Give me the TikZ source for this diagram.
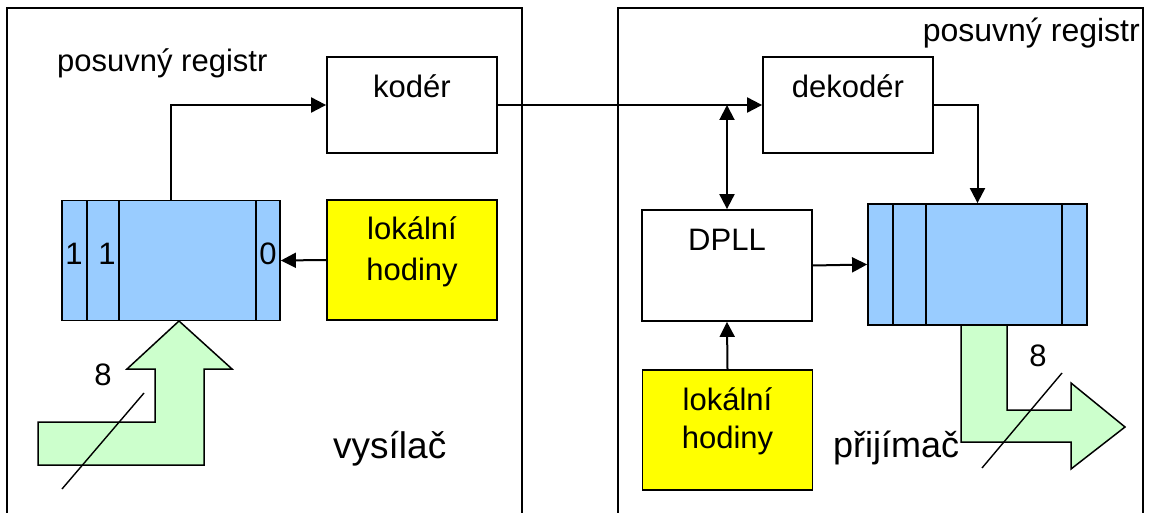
\documentclass[tikz,border=0pt]{standalone}
\usepackage{fontspec}
\setmainfont{Liberation Sans}
\usetikzlibrary{arrows.meta}
\definecolor{regblue}{HTML}{99CCFF}
\definecolor{clockyellow}{HTML}{FFFF00}
\definecolor{busgreen}{HTML}{CCFFCC}
\tikzset{
  frame/.style={draw, line width=1.8pt},
  box/.style={draw, line width=1.8pt, fill=white, minimum width=170pt, minimum height=96pt, inner sep=0pt},
  clock/.style={box, fill=clockyellow, minimum height=120pt},
  reg/.style={draw, line width=1.8pt, fill=regblue, inner sep=0pt},
  divider/.style={line width=1.8pt},
  bus/.style={draw, line width=1.5pt, fill=busgreen, line join=miter},
  slash/.style={line width=1.4pt},
  txt/.style={inner sep=0pt, anchor=base},
  caption/.style={txt, anchor=base west, font=\fontsize{36}{42}\selectfont},
  arr/.style={line width=2pt, -{Triangle[length=15pt,width=15pt]}},
  dblarr/.style={line width=2pt, {Triangle[length=15pt,width=15pt]}-{Triangle[length=15pt,width=15pt]}},
}
\begin{document}
\begin{tikzpicture}[x=1pt, y=-1pt, font=\fontsize{31}{36}\selectfont]
\useasboundingbox (0,0) rectangle (1152,513);
\clip (0,0) rectangle (1152,513);

% transmitter and receiver frames (open at the bottom)
\draw[frame] (7,530) -- (7,8) -- (522,8) -- (522,530);
\draw[frame] (618,530) -- (618,8) -- (1143,8) -- (1143,530);

% parallel 8-bit buses
\path[bus] (38,422) -- (155,422) -- (155,369) -- (127,369) -- (179,321)
  -- (232,369) -- (204,369) -- (204,465) -- (38,465) -- cycle;
\path[bus] (961,325) -- (1007,325) -- (1007,410) -- (1071,410) -- (1071,383)
  -- (1125,427) -- (1071,469) -- (1071,442) -- (961,442) -- cycle;

% blocks
\node[box] (koder) at (412,105) {};
\node[txt] at (412,98) {kodér};
\node[box] (dekoder) at (848,105) {};
\node[txt] at (848,98) {dekodér};
\node[box, minimum height=111pt] (dpll) at (727,265.5) {};
\node[txt] at (727,251) {DPLL};
\node[clock] (lclock) at (412,260) {};
\node[txt] at (412,240) {lokální};
\node[txt] at (412,280) {hodiny};
\node[clock] (rclock) at (727.5,430) {};
\node[txt] at (727.5,410) {lokální};
\node[txt] at (727.5,448) {hodiny};

% shift registers
\node[reg, minimum width=218pt, minimum height=120pt] (lreg) at (171,260.5) {};
\draw[divider] (87,200.5) -- (87,320.5);
\draw[divider] (119,200.5) -- (119,320.5);
\draw[divider] (256,200.5) -- (256,320.5);
\node[txt] at (74,265) {1};
\node[txt] at (107,265) {1};
\node[txt] at (268,265) {0};

\node[reg, minimum width=219pt, minimum height=121pt] (rreg) at (977.5,264.5) {};
\draw[divider] (893,204) -- (893,325);
\draw[divider] (926,204) -- (926,325);
\draw[divider] (1062,204) -- (1062,325);

% bus width marks
\draw[slash] (62,489) -- (144,393);
\node[txt] at (103,385) {8};
\draw[slash] (982,468) -- (1062,373);
\node[txt] at (1038,366) {8};

% connections
\draw[arr] (lreg.north) |- (koder.west);
\draw[arr] (lclock.west) -- (lreg.east);
\draw[arr] (koder.east) -- (dekoder.west);
\coordinate (tap) at (dpll.north |- koder.east);
\draw[dblarr] (tap) -- (dpll.north);
\draw[arr] (dpll.east) -- (rreg.west);
\draw[arr] (dekoder.east) -| (rreg.north);
\draw[arr] (rclock.north) -- (dpll.south);

% captions
\node[txt, anchor=base west] at (57,72) {posuvný registr};
\node[txt, anchor=base east, font=\fontsize{32}{38}\selectfont] at (1140,42) {posuvný registr};
\node[caption, font=\fontsize{37}{43}\selectfont] at (333,458) {vysílač};
\node[caption] at (833,457) {přijímač};
\end{tikzpicture}
\end{document}
